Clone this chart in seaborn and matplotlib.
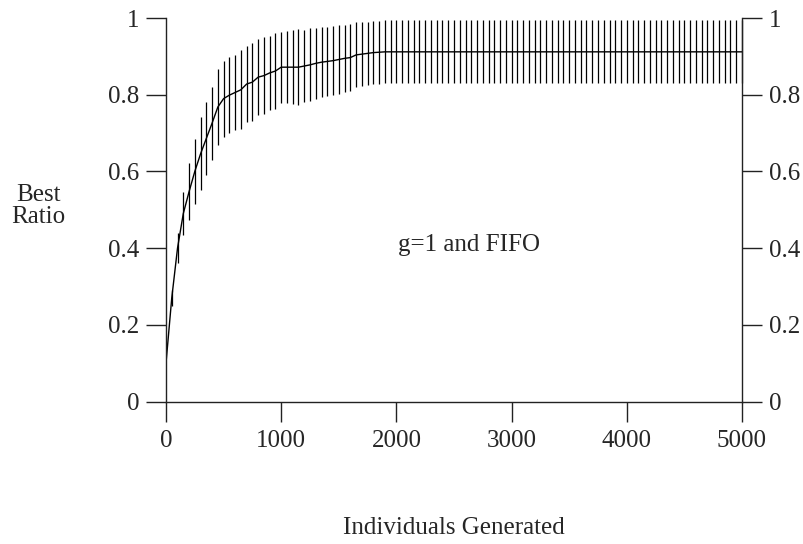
import matplotlib
matplotlib.use("Agg")
import matplotlib.pyplot as plt
import seaborn as sns
import pandas as pd

# ---- data ----
individuals = list(range(0, 5001, 50))

best_ratio = [
    0.100, 0.270, 0.400, 0.490, 0.547, 0.600, 0.646, 0.686, 0.726, 0.768,
    0.790, 0.799, 0.806, 0.813, 0.828, 0.833, 0.846, 0.850, 0.857, 0.862,
    0.872, 0.872, 0.872, 0.872, 0.875, 0.878, 0.882, 0.885, 0.887, 0.889,
    0.892, 0.895, 0.897, 0.904, 0.906, 0.908, 0.910, 0.911, 0.912, 0.912,
    0.912, 0.912, 0.912, 0.912, 0.912, 0.912, 0.912, 0.912, 0.912, 0.912,
    0.912, 0.912, 0.912, 0.912, 0.912, 0.912, 0.912, 0.912, 0.912, 0.912,
    0.912, 0.912, 0.912, 0.912, 0.912, 0.912, 0.912, 0.912, 0.912, 0.912,
    0.912, 0.912, 0.912, 0.912, 0.912, 0.912, 0.912, 0.912, 0.912, 0.912,
    0.912, 0.912, 0.912, 0.912, 0.912, 0.912, 0.912, 0.912, 0.912, 0.912,
    0.912, 0.912, 0.912, 0.912, 0.912, 0.912, 0.912, 0.912, 0.912, 0.912,
    0.912,
]

ratio_err = [
    0.000, 0.020, 0.039, 0.057, 0.074, 0.085, 0.095, 0.096, 0.095, 0.099,
    0.099, 0.099, 0.098, 0.103, 0.100, 0.101, 0.100, 0.100, 0.096, 0.098,
    0.093, 0.094, 0.096, 0.099, 0.095, 0.095, 0.093, 0.092, 0.091, 0.090,
    0.089, 0.088, 0.087, 0.085, 0.084, 0.083, 0.082, 0.082, 0.082, 0.082,
    0.082, 0.082, 0.082, 0.082, 0.082, 0.082, 0.082, 0.082, 0.082, 0.082,
    0.082, 0.082, 0.082, 0.082, 0.082, 0.082, 0.082, 0.082, 0.082, 0.082,
    0.082, 0.082, 0.082, 0.082, 0.082, 0.082, 0.082, 0.082, 0.082, 0.082,
    0.082, 0.082, 0.082, 0.082, 0.082, 0.082, 0.082, 0.082, 0.082, 0.082,
    0.082, 0.082, 0.082, 0.082, 0.082, 0.082, 0.082, 0.082, 0.082, 0.082,
    0.082, 0.082, 0.082, 0.082, 0.082, 0.082, 0.082, 0.082, 0.082, 0.082,
    0.082,
]

x_ticks = [0, 1000, 2000, 3000, 4000, 5000]
y_ticks = [0, 0.2, 0.4, 0.6, 0.8, 1.0]
y_tick_labels = ["0", "0.2", "0.4", "0.6", "0.8", "1"]

# ---- styling ----
sns.set_theme(style="white")
plt.rcParams["font.family"] = ["Liberation Serif", "DejaVu Serif"]
plt.rcParams["font.size"] = 18

df = pd.DataFrame({"Individuals": individuals, "Ratio": best_ratio, "Err": ratio_err})

fig = plt.figure(figsize=(8.04, 5.44), dpi=100)
ax = fig.add_axes([166 / 804, 142.5 / 544, 576 / 804, 383.4 / 544])

sns.lineplot(data=df, x="Individuals", y="Ratio", color="black", lw=1.0, ax=ax)
ax.errorbar(df["Individuals"], df["Ratio"], yerr=df["Err"], fmt="none",
            ecolor="black", elinewidth=0.9, capsize=0, clip_on=False)

ax.set_xlim(0, 5000)
ax.set_ylim(0, 1)
ax.set_xticks(x_ticks)
ax.set_xticklabels([str(t) for t in x_ticks])
ax.set_yticks(y_ticks)
ax.set_yticklabels(y_tick_labels)

for side in ["left", "right", "bottom"]:
    ax.spines[side].set_visible(True)
    ax.spines[side].set_color("#222222")
    ax.spines[side].set_linewidth(1.0)
ax.spines["top"].set_visible(False)

ax.tick_params(axis="y", left=True, right=True, labelleft=True, labelright=True,
               direction="out", length=14.4, width=1.0, color="#222222",
               labelsize=18, pad=5)
ax.tick_params(axis="x", bottom=True, direction="out", length=14.4, width=1.0,
               color="#222222", labelsize=18, pad=6)

ax.set_xlabel("")
ax.set_ylabel("")
fig.text(454 / 804, 1 - 528 / 544, "Individuals Generated", ha="center", va="center", fontsize=18)
fig.text(38 / 804, 1 - 206 / 544, "Best\nRatio", ha="center", va="center", fontsize=18,
         linespacing=1.0)
ax.text(2626, 0.407, "g=1 and FIFO", ha="center", va="center", fontsize=18)

fig.savefig("out.png", dpi=100)
